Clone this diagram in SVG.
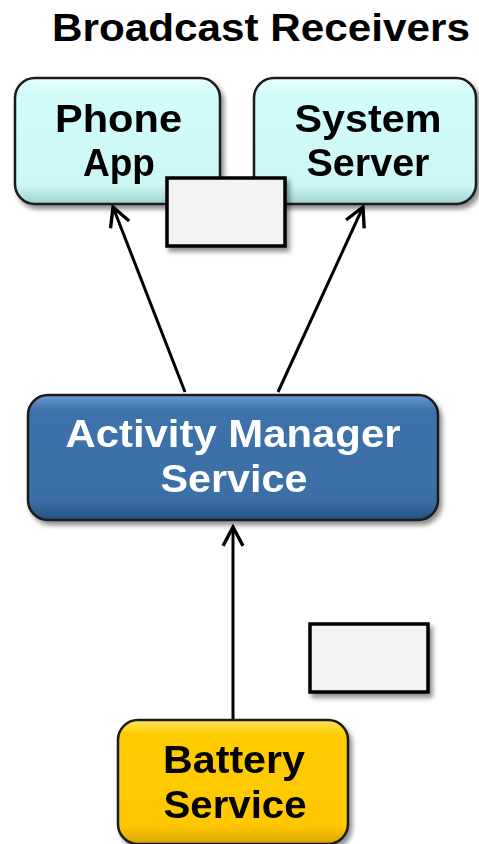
<svg xmlns="http://www.w3.org/2000/svg" width="479" height="844" viewBox="0 0 479 844">
  <style>
    .lbl { font-family: "Liberation Sans", Arial, sans-serif; font-weight: bold; font-size: 38px; text-anchor: middle; }
    .dark { fill: #000; }
    .light { fill: #fff; }
    .node { stroke: #1a1a1a; stroke-width: 2.5; }
    .blank { fill: #f2f2f2; stroke: #000; stroke-width: 3.5; }
    .conn { stroke: #000; stroke-width: 3; fill: none; marker-end: url(#arrow); }
  </style>
  <defs>
    <linearGradient id="cyanFill" x1="0" y1="0" x2="0" y2="1">
      <stop offset="0" stop-color="#eaffff"/>
      <stop offset="0.12" stop-color="#d2fcfc"/>
      <stop offset="0.85" stop-color="#cdf7f7"/>
      <stop offset="1" stop-color="#9fd0d0"/>
    </linearGradient>
    <linearGradient id="blueFill" x1="0" y1="0" x2="0" y2="1">
      <stop offset="0" stop-color="#6a9ad0"/>
      <stop offset="0.12" stop-color="#3e72aa"/>
      <stop offset="0.85" stop-color="#3b6ea5"/>
      <stop offset="1" stop-color="#24507f"/>
    </linearGradient>
    <linearGradient id="goldFill" x1="0" y1="0" x2="0" y2="1">
      <stop offset="0" stop-color="#ffe45a"/>
      <stop offset="0.12" stop-color="#ffcc00"/>
      <stop offset="0.85" stop-color="#ffc800"/>
      <stop offset="1" stop-color="#d9a200"/>
    </linearGradient>
    <filter id="shadow" x="-10%" y="-10%" width="130%" height="140%">
      <feGaussianBlur in="SourceAlpha" stdDeviation="2.5"/>
      <feOffset dx="3" dy="4" result="off"/>
      <feComponentTransfer><feFuncA type="linear" slope="0.45"/></feComponentTransfer>
      <feMerge><feMergeNode/><feMergeNode in="SourceGraphic"/></feMerge>
    </filter>
    <!-- open V arrowhead, about 20px long and 22px wide -->
    <marker id="arrow" viewBox="0 0 20 20" refX="19" refY="10" markerWidth="21" markerHeight="21" markerUnits="userSpaceOnUse" orient="auto" overflow="visible">
      <path d="M1,0.5 L19,10 L1,19.5" fill="none" stroke="#000" stroke-width="3.2" stroke-linejoin="miter"/>
    </marker>
  </defs>

  <text class="lbl dark" x="261" y="41" textLength="418" lengthAdjust="spacingAndGlyphs">Broadcast Receivers</text>

  <g id="connectors">
    <line class="conn" x1="185" y1="392" x2="113" y2="207"/>
    <line class="conn" x1="278" y1="392" x2="363" y2="207"/>
    <line class="conn" x1="233" y1="719" x2="233" y2="527"/>
  </g>

  <g id="phone-app" filter="url(#shadow)">
    <rect class="node" x="15" y="78" width="205" height="126" rx="20" fill="url(#cyanFill)"/>
    <text class="lbl dark" x="118.5" y="132" textLength="127" lengthAdjust="spacingAndGlyphs">Phone</text>
    <text class="lbl dark" x="119" y="176" textLength="72" lengthAdjust="spacingAndGlyphs">App</text>
  </g>

  <g id="system-server" filter="url(#shadow)">
    <rect class="node" x="254" y="78" width="222" height="126" rx="20" fill="url(#cyanFill)"/>
    <text class="lbl dark" x="368" y="132" textLength="147" lengthAdjust="spacingAndGlyphs">System</text>
    <text class="lbl dark" x="368" y="176" textLength="123" lengthAdjust="spacingAndGlyphs">Server</text>
  </g>

  <g id="blank-top" filter="url(#shadow)">
    <rect class="blank" x="167" y="178" width="118" height="68"/>
  </g>

  <g id="activity-manager" filter="url(#shadow)">
    <rect class="node" x="28" y="395" width="410" height="125" rx="20" fill="url(#blueFill)"/>
    <text class="lbl light" x="233" y="447" textLength="335" lengthAdjust="spacingAndGlyphs">Activity Manager</text>
    <text class="lbl light" x="234" y="492" textLength="147" lengthAdjust="spacingAndGlyphs">Service</text>
  </g>

  <g id="blank-bottom" filter="url(#shadow)">
    <rect class="blank" x="310" y="624" width="118" height="68"/>
  </g>

  <g id="battery-service" filter="url(#shadow)">
    <rect class="node" x="118" y="720" width="230" height="124" rx="20" fill="url(#goldFill)"/>
    <text class="lbl dark" x="234" y="773" textLength="142" lengthAdjust="spacingAndGlyphs">Battery</text>
    <text class="lbl dark" x="235" y="818" textLength="143" lengthAdjust="spacingAndGlyphs">Service</text>
  </g>
</svg>
